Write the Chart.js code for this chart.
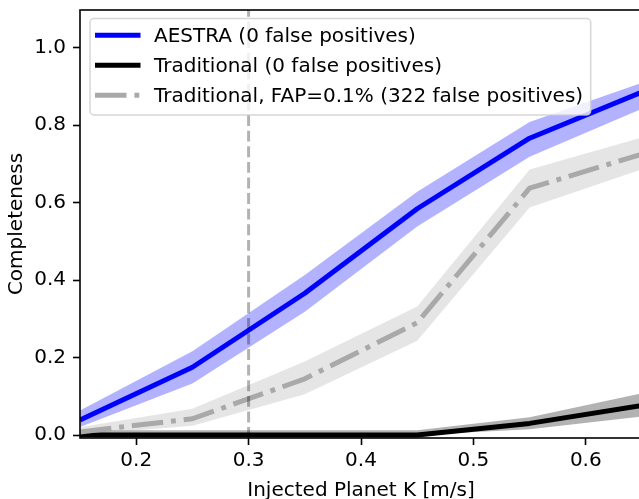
<!DOCTYPE html>
<html><head><meta charset="utf-8">
<script src="https://cdn.jsdelivr.net/npm/chart.js@4.4.1/dist/chart.umd.min.js"></script>
<style>html,body{margin:0;padding:0;overflow:hidden;background:#fff;width:639px;height:499px}canvas{display:block}</style>
</head><body>
<canvas id="c" width="642" height="499"></canvas>
<script>
// ---- data ----
const K = [0.15, 0.25, 0.35, 0.45, 0.55, 0.65];
const aestra   = [0.039, 0.175, 0.366, 0.584, 0.766, 0.885];
const aestraLo = [0.021, 0.133, 0.318, 0.538, 0.718, 0.842];
const aestraHi = [0.063, 0.216, 0.413, 0.628, 0.808, 0.909];
const trad   = [0.000, 0.000, 0.000, 0.000, 0.030, 0.076];
const tradLo = [0.000, 0.000, 0.000, 0.000, 0.015, 0.048];
const tradHi = [0.012, 0.012, 0.012, 0.012, 0.046, 0.108];
const fap   = [0.008, 0.042, 0.145, 0.290, 0.637, 0.725];
const fapLo = [0.000, 0.024, 0.105, 0.243, 0.587, 0.686];
const fapHi = [0.020, 0.068, 0.190, 0.332, 0.685, 0.768];
const thresholdK = 0.3;
const xTicks = [0.2, 0.3, 0.4, 0.5, 0.6];
const yTicks = [0.0, 0.2, 0.4, 0.6, 0.8, 1.0];
const xRange = [0.15, 0.65];
const yRange = [-0.0077, 1.097];
const seriesLabels = ['AESTRA (0 false positives)', 'Traditional (0 false positives)', 'Traditional, FAP=0.1% (322 false positives)'];
const xTitle = 'Injected Planet K [m/s]';
const yTitle = 'Completeness';

const FONT = 'DejaVu Sans';
const FS = 20;
const pts = arr => K.map((k, i) => ({x: k, y: arr[i]}));
const fapDash = [31.5, 7.9, 4.9, 7.9];
const styles = [
  {color: '#0000ff', dash: []},
  {color: '#000000', dash: []},
  {color: '#a9a9a9', dash: fapDash}
];

function lineDs(label, data, color, width, dash, order) {
  return {label, data, borderColor: color, borderWidth: width, borderDash: dash,
    pointRadius: 0, tension: 0, fill: false, order, clip: 0,
    borderJoinStyle: 'round', borderCapStyle: 'butt'};
}
function bandDs(data, color, order, fill) {
  return {label: '', data, borderWidth: 0, borderColor: 'rgba(0,0,0,0)', backgroundColor: color,
    pointRadius: 0, tension: 0, fill, order, clip: 0};
}

const datasets = [
  lineDs('threshold', [{x: thresholdK, y: yRange[0]}, {x: thresholdK, y: yRange[1]}], 'rgba(0,0,0,0.3)', 3, [10.9, 4.7], 0),
  lineDs(seriesLabels[2], pts(fap), styles[2].color, 5, fapDash, 1),
  lineDs(seriesLabels[1], pts(trad), styles[1].color, 5, [], 2),
  lineDs(seriesLabels[0], pts(aestra), styles[0].color, 5, [], 3),
  bandDs(pts(fapHi), 'rgba(169,169,169,0.3)', 4, '+1'),
  bandDs(pts(fapLo), 'rgba(0,0,0,0)', 5, false),
  bandDs(pts(tradHi), 'rgba(0,0,0,0.3)', 6, '+1'),
  bandDs(pts(tradLo), 'rgba(0,0,0,0)', 7, false),
  bandDs(pts(aestraHi), 'rgba(0,0,255,0.3)', 8, '+1'),
  bandDs(pts(aestraLo), 'rgba(0,0,0,0)', 9, false)
];

const framePlugin = {
  id: 'frame',
  afterDatasetsDraw(chart) {
    const {ctx, chartArea: a} = chart;
    ctx.save();
    ctx.strokeStyle = '#000'; ctx.lineWidth = 1.6;
    ctx.strokeRect(a.left, a.top, a.right - a.left, a.bottom - a.top);
    ctx.restore();
  }
};

const legendPlugin = {
  id: 'boxLegend',
  afterDraw(chart) {
    const {ctx, chartArea: a} = chart;
    const x0 = a.left + 10, y0 = a.top + 8.5, w = 500.7, h = 96.5, r = 4;
    ctx.save();
    ctx.beginPath();
    ctx.moveTo(x0 + r, y0);
    ctx.lineTo(x0 + w - r, y0); ctx.arcTo(x0 + w, y0, x0 + w, y0 + r, r);
    ctx.lineTo(x0 + w, y0 + h - r); ctx.arcTo(x0 + w, y0 + h, x0 + w - r, y0 + h, r);
    ctx.lineTo(x0 + r, y0 + h); ctx.arcTo(x0, y0 + h, x0, y0 + h - r, r);
    ctx.lineTo(x0, y0 + r); ctx.arcTo(x0, y0, x0 + r, y0, r);
    ctx.closePath();
    ctx.fillStyle = 'rgba(255,255,255,0.8)'; ctx.fill();
    ctx.strokeStyle = 'rgba(204,204,204,0.8)'; ctx.lineWidth = 1.5; ctx.stroke();
    ctx.font = FS + 'px "' + FONT + '"';
    ctx.textBaseline = 'alphabetic';
    ctx.textAlign = 'left';
    seriesLabels.forEach((lab, i) => {
      const base = y0 + 23.8 + i * 30;
      const ly = base - 7;
      ctx.beginPath();
      ctx.setLineDash(styles[i].dash);
      ctx.lineDashOffset = 0;
      ctx.strokeStyle = styles[i].color; ctx.lineWidth = 5; ctx.lineCap = 'butt';
      ctx.moveTo(x0 + 5, ly); ctx.lineTo(x0 + 50.5, ly); ctx.stroke();
      ctx.setLineDash([]);
      ctx.fillStyle = '#000';
      ctx.fillText(lab, x0 + 64, base);
    });
    ctx.restore();
  }
};

const tickFont = {family: FONT, size: FS};
new Chart(document.getElementById('c'), {
  type: 'line',
  data: {datasets},
  plugins: [framePlugin, legendPlugin],
  options: {
    responsive: false, animation: false, devicePixelRatio: 1,
    layout: {padding: {top: 10, left: 0, right: 0, bottom: 0}},
    plugins: {legend: {display: false}, tooltip: {enabled: false}, filler: {propagate: false}},
    scales: {
      x: {
        type: 'linear', min: xRange[0], max: xRange[1],
        afterBuildTicks: s => { s.ticks = xTicks.map(v => ({value: v})); },
        afterFit: s => { s.height = 61; s.paddingLeft = 0; s.paddingRight = 0; },
        ticks: {callback: v => Number(v).toFixed(1), font: tickFont, color: '#000', padding: 4, maxRotation: 0, autoSkip: false},
        grid: {drawOnChartArea: false, drawTicks: true, tickLength: 7, tickWidth: 1.6, tickColor: '#000'},
        border: {display: false},
        title: {display: true, text: xTitle, color: '#000', font: {family: FONT, size: FS, lineHeight: 0.8}, padding: 0}
      },
      y: {
        type: 'linear', min: yRange[0], max: yRange[1],
        afterBuildTicks: s => { s.ticks = yTicks.map(v => ({value: v})); },
        afterFit: s => { s.width = 80; s.paddingTop = 0; s.paddingBottom = 0; },
        ticks: {callback: v => Number(v).toFixed(1), font: tickFont, color: '#000', padding: 7, autoSkip: false},
        grid: {drawOnChartArea: false, drawTicks: true, tickLength: 7, tickWidth: 1.6, tickColor: '#000'},
        border: {display: false},
        title: {display: true, text: yTitle, color: '#000', font: {family: FONT, size: FS, lineHeight: 1}, padding: {top: 7, bottom: 0}}
      }
    }
  }
});
</script>
</body></html>
